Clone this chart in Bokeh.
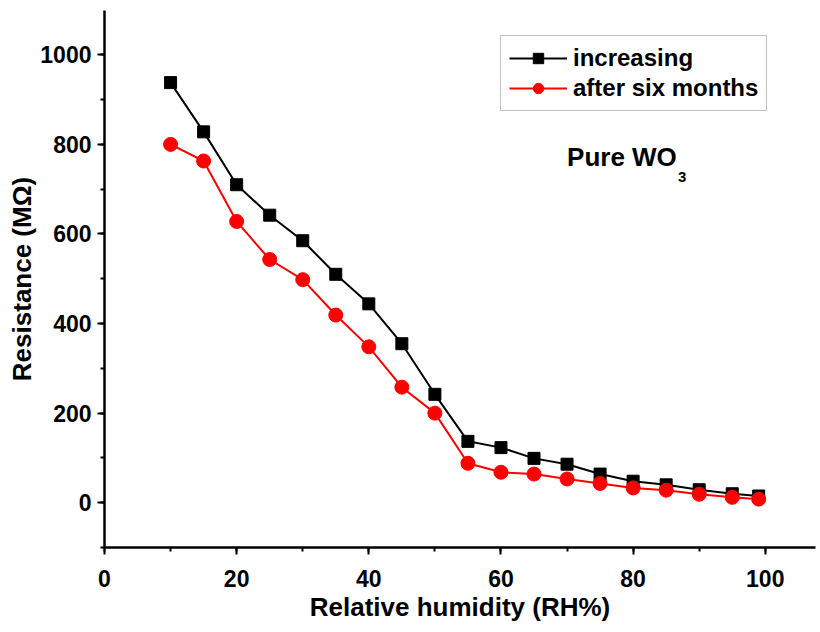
from bokeh.plotting import figure
from bokeh.models import Range1d, SingleIntervalTicker, Label, Legend, LegendItem
from bokeh.embed import file_html
from bokeh.resources import INLINE

# Data
rh = [10, 15, 20, 25, 30, 35, 40, 45, 50, 55, 60, 65, 70, 75, 80, 85, 90, 95, 99]
increasing = [938, 828, 710, 642, 585, 510, 444, 355, 242, 137, 123, 99, 86, 64, 48, 40, 29, 20, 15]
after_six_months = [800, 763, 628, 543, 498, 419, 348, 258, 200, 88, 68, 64, 53, 43, 33, 28, 19, 12, 8]

x_label = "Relative humidity (RH%)"
y_label = "Resistance (M\u03a9)"
series_names = ["increasing", "after six months"]

FONT = "Liberation Sans"

p = figure(width=816, height=628, output_backend="svg", toolbar_location=None,
           x_range=Range1d(0, 107.6), y_range=Range1d(-100, 1099),
           min_border_left=104, min_border_right=1, min_border_top=10, min_border_bottom=81)
p.outline_line_color = None
p.grid.visible = False
p.background_fill_color = "white"
p.border_fill_color = "white"

p.xaxis.ticker = SingleIntervalTicker(interval=20, num_minor_ticks=2)
p.yaxis.ticker = SingleIntervalTicker(interval=200, num_minor_ticks=2)
for ax in (p.xaxis, p.yaxis):
    ax.axis_line_width = 2.5
    ax.axis_line_color = "black"
    ax.major_tick_line_width = 2
    ax.minor_tick_line_width = 2
    ax.major_tick_out = 7
    ax.major_tick_in = 0
    ax.minor_tick_out = 4
    ax.minor_tick_in = 0
    ax.major_label_text_font = FONT
    ax.major_label_text_font_style = "bold"
    ax.major_label_text_font_size = "23px"
    ax.major_label_text_color = "black"
    ax.axis_label_text_font = FONT
    ax.axis_label_text_font_style = "bold"
    ax.axis_label_text_font_size = "26px"
    ax.axis_label_text_color = "black"

p.xaxis.axis_label = x_label
p.yaxis.axis_label = y_label
p.xaxis.major_label_standoff = 15
p.yaxis.major_label_standoff = 6
p.xaxis.axis_label_standoff = 2
p.yaxis.axis_label_standoff = 0

l1 = p.line(rh, increasing, line_color="black", line_width=2)
s1 = p.scatter(rh, increasing, marker="square", size=12, fill_color="black", line_color="black")
l2 = p.line(rh, after_six_months, line_color="#ff0000", line_width=2)
s2 = p.scatter(rh, after_six_months, marker="circle", size=14, fill_color="#ff0000", line_color="#ff0000")

legend = Legend(items=[LegendItem(label=series_names[0], renderers=[l1, s1]),
                       LegendItem(label=series_names[1], renderers=[l2, s2])],
                location=(396, 436))
legend.label_text_font = FONT
legend.label_text_font_style = "bold"
legend.label_text_font_size = "24px"
legend.label_text_color = "black"
legend.glyph_width = 58
legend.glyph_height = 26
legend.label_height = 26
legend.label_standoff = 6
legend.padding = 8
legend.spacing = 2
legend.margin = 0
legend.border_line_color = "#888888"
legend.border_line_width = 1.5
legend.background_fill_alpha = 1.0
p.add_layout(legend)

p.add_layout(Label(x=70, y=738, text="Pure WO", text_font=FONT, text_font_style="bold",
                   text_font_size="26px", text_color="black"))
p.add_layout(Label(x=86.8, y=716, text="3", text_font=FONT, text_font_style="bold",
                   text_font_size="15px", text_color="black"))

open("out.html", "w").write(file_html(p, INLINE))
